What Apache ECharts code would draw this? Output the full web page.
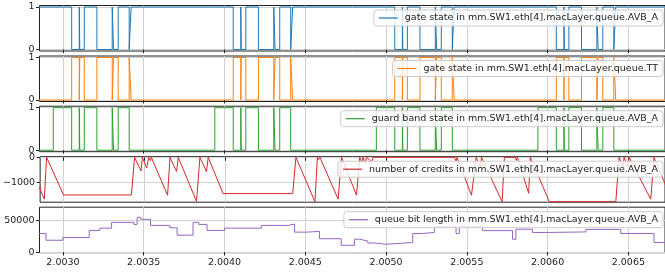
<!DOCTYPE html>
<html>
<head>
<meta charset="utf-8">
<script src="https://cdn.jsdelivr.net/npm/echarts@6/dist/echarts.min.js"></script>
<style>
  html, body { margin: 0; padding: 0; background: #fff; }
  #chart { width: 665px; height: 276px; }
</style>
</head>
<body>
<div id="chart"></div>
<script>
// change times of the gate / guard band vectors (s)
var gateTimes = [
  2.00280,
  2.002940, 2.003054, 2.003101, 2.003104, 2.003132, 2.003210, 2.003305, 2.003313, 2.003342, 2.003410, 2.003422,
  2.003940, 2.004054, 2.004101, 2.004104, 2.004132, 2.004210, 2.004305, 2.004313, 2.004342, 2.004410, 2.004422,
  2.004940, 2.005054, 2.005101, 2.005104, 2.005132, 2.005210, 2.005305, 2.005313, 2.005342, 2.005410, 2.005422,
  2.005940, 2.006054, 2.006101, 2.006104, 2.006132, 2.006210, 2.006305, 2.006313, 2.006342, 2.006410, 2.006422,
  2.00680
]
var gateAvbA = [
  1,
  1, 0, 1, 0, 1, 0, 1, 0, 1, 0, 1,
  1, 0, 1, 0, 1, 0, 1, 0, 1, 0, 1,
  1, 0, 1, 0, 1, 0, 1, 0, 1, 0, 1,
  1, 0, 1, 0, 1, 0, 1, 0, 1, 0, 1,
  1
]
var gateTT = [
  0,
  0, 1, 0, 1, 0, 1, 0, 1, 0, 1, 0,
  0, 1, 0, 1, 0, 1, 0, 1, 0, 1, 0,
  0, 1, 0, 1, 0, 1, 0, 1, 0, 1, 0,
  0, 1, 0, 1, 0, 1, 0, 1, 0, 1, 0,
  0
]
var guardBand = [
  0,
  1, 0, 1, 0, 1, 0, 1, 0, 1, 0, 0,
  1, 0, 1, 0, 1, 0, 1, 0, 1, 0, 0,
  1, 0, 1, 0, 1, 0, 1, 0, 1, 0, 0,
  1, 0, 1, 0, 1, 0, 1, 0, 1, 0, 0,
  0
]

// credits of AVB_A
var creditTimes = [
  2.0028455, 2.0028807, 2.0028949, 2.0030000, 2.0034203, 2.0034401, 2.0034802, 2.0034883,
  2.0035148, 2.0035272, 2.0035377, 2.0035439, 2.0036446, 2.0036595, 2.0037003, 2.0037108,
  2.0038239, 2.0038449, 2.0038857, 2.0038962, 2.0039889, 2.0044197, 2.0044401, 2.0045575,
  2.0045729, 2.0045791, 2.0045884, 2.0047015, 2.0047225, 2.0048152, 2.0048356, 2.0048480,
  2.0048560, 2.0048684, 2.0048770, 2.0049098, 2.0049178, 2.0054228, 2.0054320, 2.0054382,
  2.0055278, 2.0055569, 2.0055834, 2.0055896, 2.0057176, 2.0057318, 2.0057998, 2.0058059,
  2.0058121, 2.0058820, 2.0058925, 2.0060099, 2.0064221, 2.0064425, 2.0064673, 2.0064734,
  2.0064982, 2.0065043, 2.0066385, 2.0066589, 2.0067392
]
var credits = [
  -1130, -1650, 0, -1485, -1485, 0, -540, 0,
  -420, 0, -130, 0, -1495, 0, -560, 0,
  -1740, 0, -560, 0, -1430, -1430, 0, -1750,
  0, -100, 0, -1650, 0, -1495, 0, -200,
  0, -230, 0, -180, 0, 0, -150, 0,
  -1495, 0, -410, 0, -1750, 0, 0, -120,
  0, -1420, 0, -1750, -1750, 0, -380, 0,
  -380, 0, -1650, 0, -1230
]

// queue bit length of AVB_A
var queueTimes = [
  2.0028455, 2.0028949, 2.0030000, 2.0031625, 2.0032287, 2.0033010, 2.0034388, 2.0034592,
  2.0034821, 2.0035420, 2.0036613, 2.0037064, 2.0038053, 2.0038405, 2.0038918, 2.0040012,
  2.0042281, 2.0043925, 2.0044339, 2.0045142, 2.0045884, 2.0047225, 2.0048047, 2.0048356,
  2.0048869, 2.0049283, 2.0050006, 2.0051650, 2.0052268, 2.0052991, 2.0054333, 2.0054537,
  2.0055977, 2.0057831, 2.0058041, 2.0059067, 2.0059994, 2.0062367, 2.0064531, 2.0066589,
  2.0067500
]
var queueBits = [
  29300, 18600, 22900, 34100, 37700, 46800, 43600, 54800,
  51600, 42000, 38300, 26600, 46800, 43600, 34100, 37700,
  42000, 44100, 31400, 32600, 21000, 10700, 20200, 17500,
  14300, 12300, 15000, 29300, 30900, 39800, 29300, 40500,
  33800, 20100, 36000, 30900, 31700, 35700, 29300, 15000,
  15000
]

var xTicks = [2.0030, 2.0035, 2.0040, 2.0045, 2.0050, 2.0055, 2.0060, 2.0065]
var stateTicks = [0, 1]
var creditTicks = [-1000, 0]
var queueTicks = [0, 50000]

var names = [
  'gate state in mm.SW1.eth[4].macLayer.queue.AVB_A',
  'gate state in mm.SW1.eth[4].macLayer.queue.TT',
  'guard band state in mm.SW1.eth[4].macLayer.queue.AVB_A',
  'number of credits in mm.SW1.eth[4].macLayer.queue.AVB_A',
  'queue bit length in mm.SW1.eth[4].macLayer.queue.AVB_A'
]

function zip(xs, ys) {
  return xs.map(function (x, i) { return [x, ys[i]] })
}

var panels = [
  { color: '#1f77b4', data: zip(gateTimes, gateAvbA), step: true, min: -0.035, max: 1.035, ticks: stateTicks },
  { color: '#ff7f0e', data: zip(gateTimes, gateTT), step: true, min: -0.035, max: 1.035, ticks: stateTicks },
  { color: '#2ca02c', data: zip(gateTimes, guardBand), step: true, min: -0.035, max: 1.035, ticks: stateTicks },
  { color: '#d62728', data: zip(creditTimes, credits), step: false, min: -1770, max: 25, ticks: creditTicks },
  { color: '#9467bd', data: zip(queueTimes, queueBits), step: true, min: -1000, max: 70700, ticks: queueTicks }
]

var font = 'DejaVu Sans'
var tops = [5.5, 56, 106.2, 156.7, 207.2]
var xMin = 2.0028548
var xMax = 2.0067269

var grids = []
var xAxes = []
var yAxes = []
var series = []
var legends = []

panels.forEach(function (p, i) {
  var last = i === panels.length - 1
  grids.push({
    left: 39.5, right: -1, top: tops[i], height: 45.5,
    show: true, borderColor: '#222', borderWidth: 1
  })
  xAxes.push({
    type: 'value', gridIndex: i, min: xMin, max: xMax,
    axisLine: { show: false },
    axisTick: { show: true, length: 3.5, customValues: xTicks, lineStyle: { color: '#222' } },
    axisLabel: {
      show: last, customValues: xTicks, margin: 5,
      fontFamily: font, fontSize: 9.5, color: '#222',
      formatter: function (v) { return v.toFixed(4) }
    },
    splitLine: { show: true, lineStyle: { color: '#d2d2d2', width: 1 } }
  })
  yAxes.push({
    type: 'value', gridIndex: i, min: p.min, max: p.max,
    axisLine: { show: false },
    axisTick: { show: true, length: 3.5, customValues: p.ticks, lineStyle: { color: '#222' } },
    axisLabel: {
      customValues: p.ticks, margin: 5,
      fontFamily: font, fontSize: 9.5, color: '#222',
      formatter: function (v) { return v < 0 ? '\u2212' + Math.abs(v) : String(v) }
    },
    splitLine: { show: true, lineStyle: { color: '#d2d2d2', width: 1 } }
  })
  series.push({
    name: names[i], type: 'line', xAxisIndex: i, yAxisIndex: i,
    step: p.step ? 'end' : false,
    symbol: 'none', showSymbol: false,
    lineStyle: { color: p.color, width: 1 },
    itemStyle: { color: p.color },
    data: p.data
  })
  // flat line handle like matplotlib's legend
  legends.push({
    data: [names[i]], right: 2, top: tops[i] + 4.5,
    icon: 'rect', itemWidth: 19, itemHeight: 1.2, itemGap: 6,
    padding: [3, 5, 3, 5],
    backgroundColor: 'rgba(255,255,255,0.8)',
    borderColor: '#cccccc', borderWidth: 1, borderRadius: 3,
    textStyle: { fontFamily: font, fontSize: 9.5, color: '#222', padding: [0, 0, 0, 2] }
  })
})

var chart = echarts.init(document.getElementById('chart'))
chart.setOption({
  animation: false,
  grid: grids,
  xAxis: xAxes,
  yAxis: yAxes,
  legend: legends,
  series: series
})
</script>
</body>
</html>
